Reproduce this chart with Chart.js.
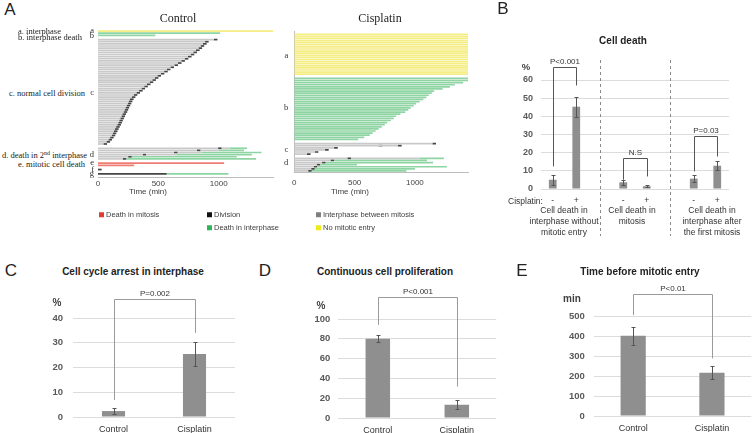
<!DOCTYPE html>
<html>
<head>
<meta charset="utf-8">
<script src="https://cdn.jsdelivr.net/npm/chart.js@4.4.1/dist/chart.umd.min.js"></script>
<style>
body { margin: 0; background: #fff; }
#page { position: relative; width: 752px; height: 433px; overflow: hidden; font-family: "Liberation Sans", Arial, sans-serif; color: #222; }
canvas { position: absolute; }
.t { position: absolute; white-space: nowrap; transform: translate(-50%, -50%); line-height: 1; }
.l { position: absolute; white-space: nowrap; transform: translateY(-50%); line-height: 1; }
.serif { font-family: "Liberation Serif", "Times New Roman", serif; }
.b { font-weight: bold; }
.sq { display: inline-block; width: 5px; height: 5px; margin-right: 2px; vertical-align: middle; position: relative; top: -1px; }
sup { font-size: 6px; vertical-align: top; position: relative; top: -1px; }
</style>
</head>
<body>
<div id="page">
  <canvas id="ctrl" width="189" height="179" style="left:90px;top:20px"></canvas>
  <canvas id="cis" width="196" height="174" style="left:276px;top:20px"></canvas>
  <canvas id="death" width="252" height="186" style="left:500px;top:50px"></canvas>
  <canvas id="arrest" width="220" height="148" style="left:20px;top:285px"></canvas>
  <canvas id="prolif" width="220" height="149" style="left:280px;top:285px"></canvas>
  <canvas id="entry" width="222" height="149" style="left:530px;top:283px"></canvas>

  <!-- panel A text -->
  <div class="t" style="left:10px;top:9px;font-size:17px">A</div>
  <div class="t serif" style="left:178px;top:18px;font-size:12px">Control</div>
  <div class="t serif" style="left:380px;top:18px;font-size:12px">Cisplatin</div>
  <div class="l serif" style="left:18px;top:31px;font-size:8.5px">a. interphase</div>
  <div class="l serif" style="left:18px;top:37px;font-size:8.5px">b. interphase death</div>
  <div class="l serif" style="left:9px;top:93px;font-size:8.5px">c. normal cell division</div>
  <div class="l serif" style="left:2px;top:155px;font-size:8.5px">d. death in 2<sup>nd</sup> interphase</div>
  <div class="l serif" style="left:18px;top:164px;font-size:8.5px">e. mitotic cell death</div>
  <div class="t" style="left:148px;top:192px;font-size:8px;color:#404040">Time (min)</div>
  <div class="t" style="left:350px;top:192px;font-size:8px;color:#404040">Time (min)</div>

  <div class="l" style="left:99px;top:215px;font-size:7.5px;color:#404040"><span class="sq" style="background:#e53935"></span>Death in mitosis</div>
  <div class="l" style="left:207px;top:215px;font-size:7.5px;color:#404040"><span class="sq" style="background:#111"></span>Division</div>
  <div class="l" style="left:207px;top:228px;font-size:7.5px;color:#404040"><span class="sq" style="background:#2fb35a"></span>Death in interphase</div>
  <div class="l" style="left:316px;top:215px;font-size:7.5px;color:#404040"><span class="sq" style="background:#7f7f7f"></span>Interphase between mitosis</div>
  <div class="l" style="left:316px;top:228px;font-size:7.5px;color:#404040"><span class="sq" style="background:#ecec1c"></span>No mitotic entry</div>

  <!-- panel B text -->
  <div class="t" style="left:503px;top:8px;font-size:17px">B</div>
  <div class="t b" style="left:623px;top:41px;font-size:10px">Cell death</div>
  <div class="t b" style="left:526px;top:67px;font-size:9.5px;color:#404040">%</div>
  <div class="l" style="left:508px;top:201px;font-size:8.5px;color:#333">Cisplatin:</div>
  <div class="t" style="left:564px;top:210px;font-size:8.5px;color:#333">Cell death in</div>
  <div class="t" style="left:564px;top:221px;font-size:8.5px;color:#333">interphase without</div>
  <div class="t" style="left:564px;top:232px;font-size:8.5px;color:#333">mitotic entry</div>
  <div class="t" style="left:632px;top:210px;font-size:8.5px;color:#333">Cell death in</div>
  <div class="t" style="left:632px;top:221px;font-size:8.5px;color:#333">mitosis</div>
  <div class="t" style="left:712px;top:210px;font-size:8.5px;color:#333">Cell death in</div>
  <div class="t" style="left:712px;top:221px;font-size:8.5px;color:#333">interphase after</div>
  <div class="t" style="left:712px;top:232px;font-size:8.5px;color:#333">the first mitosis</div>

  <!-- panels C, D, E text -->
  <div class="t" style="left:11px;top:270px;font-size:17px">C</div>
  <div class="t b" style="left:133px;top:272px;font-size:10px">Cell cycle arrest in interphase</div>
  <div class="t b" style="left:57px;top:303px;font-size:10px;color:#404040">%</div>

  <div class="t" style="left:265px;top:270px;font-size:17px">D</div>
  <div class="t b" style="left:385px;top:272px;font-size:10px">Continuous cell proliferation</div>
  <div class="t b" style="left:321px;top:306px;font-size:10px;color:#404040">%</div>

  <div class="t" style="left:522px;top:270px;font-size:17px">E</div>
  <div class="t b" style="left:640px;top:272px;font-size:10px">Time before mitotic entry</div>
  <div class="t b" style="left:572px;top:299px;font-size:10px;color:#404040">min</div>
</div>
<script>
// ---- panel A data (minutes) ----
const MITOSIS = 30;
const ctrlNoEntry = [1450];
const ctrlInterDeath = [1012, 475];
const ctrlDivision = [960, 887, 870, 850, 833, 812, 790, 768, 745, 718,
  690, 662, 633, 600, 570, 548, 520, 492, 470, 450,
  428, 405, 383, 360, 340, 318, 296, 280, 265, 255,
  246, 237, 228, 220, 212, 202, 194, 185, 176, 168,
  160, 150, 141, 132, 122, 113, 100, 86, 70, 45];
const ctrlD2First = [995, 820, 630, 370, 250, 205];
const ctrlD2Death = [1090, 1000, 860, 650, 280, 235];
const ctrlD2End = [1235, 1210, 1355, 1275, 1150, 1310];
const ctrlMitoticDeath = [1045, 300];
const ctrlEarlyDivision = 0;
const ctrlLateDivision = 570;
const ctrlLateDeathEnd = 1080;

const cisNoEntry = [1440, 1440, 1440, 1440, 1440, 1440, 1440, 1440, 1440, 1440,
  1440, 1440, 1440, 1440, 1440, 1440, 1440, 1440, 1440, 1440];
const cisInterDeath = [1440, 1440, 1400, 1330, 1290, 1230, 1160, 1140, 1115, 1095,
  1070, 1040, 1010, 990, 965, 945, 920, 880, 845, 825,
  800, 770, 750, 725, 700, 675, 650, 625, 580, 530];
const cisDivisions = [[1145], [700, 860], [330], [255], [170], [105]];
const cisD2First = [440, 300, 230, 185, 160, 140, 115];
const cisD2Death = [1040, 330, 260, 215, 190, 170, 145];
const cisD2End = [1240, 1100, 1150, 520, 1265, 1000, 930];
const timeTicks = [0, 500, 1000];

// ---- panel B ----
const deathTicks = ['-', '+', '', '-', '+', '', '-', '+'];
const deathValues = [5.1, 45.3, null, 3.7, 1.5, null, 5.7, 12.8];
const deathErrors = [2.7, 5.5, null, 1.4, 0.5, null, 2.1, 2.4];
const deathBrackets = [
  { text: 'P<0.001', from: 0, to: 1, top: 67.4, left: 12.4, right: 57 },
  { text: 'N.S', from: 3, to: 4, top: 17, left: 5.1, right: 6.9 },
  { text: 'P=0.03', from: 6, to: 7, top: 28.9, left: 9.7, right: 17.9 }
];

// ---- panels C, D, E ----
const groups = ['Control', 'Cisplatin'];
const arrestValues = [2.4, 25.5];
const arrestErrors = [1.1, 4.8];
const arrestBracket = [{ text: 'P=0.002', from: 0, to: 1, top: 47.7, left: 6.9, right: 34 }];
const prolifValues = [80.1, 13.4];
const prolifErrors = [3.4, 4.7];
const prolifBracket = [{ text: 'P<0.001', from: 0, to: 1, top: 122.5, left: 94, right: 31.8 }];
const entryValues = [404, 218];
const entryErrors = [44, 33];
const entryBracket = [{ text: 'P<0.01', from: 0, to: 1, top: 614, left: 508, right: 290 }];

const SANS = '"Liberation Sans", Arial, sans-serif';
const SERIF = '"Liberation Serif", "Times New Roman", serif';
Chart.defaults.font.family = SANS;
const COL = { gray: '#c9c9c9', black: '#454545', green: '#8fd4a3', red: '#ee7d74', yellow: '#f5ee84' };

// turn rows of [colour, start, end] segments into overlapping floating-bar datasets
function rowsToDatasets(rows) {
  const sets = {};
  rows.forEach((segs, i) => {
    const count = {};
    (segs || []).forEach(([c, s, e]) => {
      count[c] = (count[c] || 0) + 1;
      const k = c + count[c];
      if (!sets[k]) sets[k] = { c, data: new Array(rows.length).fill(null) };
      sets[k].data[i] = [s, e];
    });
  });
  const order = ['yellow', 'gray', 'green', 'red', 'black'];
  return Object.values(sets)
    .sort((a, b) => order.indexOf(a.c) - order.indexOf(b.c))
    .map(d => ({ data: d.data, backgroundColor: COL[d.c], grouped: false, barPercentage: 0.8, categoryPercentage: 1 }));
}

const cRows = [], cLabels = [];
const addC = (lab, segs) => { cLabels.push(lab); cRows.push(segs); };
ctrlNoEntry.forEach(t => addC('a', [['yellow', 0, t]]));
ctrlInterDeath.forEach((t, i) => addC(i === 1 ? 'b' : '', [['green', 0, t]]));
addC('', null);
ctrlDivision.forEach((t, i) => addC(i === 25 ? 'c' : '', [['gray', 0, t], ['black', t, t + MITOSIS]]));
addC('', null);
ctrlD2First.forEach((t, i) => addC(i === 3 ? 'd' : '', [['gray', 0, t], ['black', t, t + MITOSIS],
  ['gray', t + MITOSIS, ctrlD2Death[i]], ['green', ctrlD2Death[i], ctrlD2End[i]]]));
addC('', null);
ctrlMitoticDeath.forEach((t, i) => addC(i === 0 ? 'e' : '', [['red', 0, t]]));
addC('', null);
addC('f', [['black', ctrlEarlyDivision, ctrlEarlyDivision + MITOSIS]]);
addC('', null);
addC('g', [['black', 0, ctrlLateDivision], ['green', ctrlLateDivision, ctrlLateDeathEnd]]);
addC('', null);

const sRows = [], sLabels = [];
const addS = (lab, segs) => { sLabels.push(lab); sRows.push(segs); };
addS('', null);
cisNoEntry.forEach((t, i) => addS(i === 10 ? 'a' : '', [['yellow', 0, t]]));
addS('', null);
cisInterDeath.forEach((t, i) => addS(i === 14 ? 'b' : '', [['green', 0, t]]));
addS('', null);
cisDivisions.forEach((ds, i) => addS(i === 3 ? 'c' : '', [['gray', 0, ds[ds.length - 1]],
  ...ds.map(d => ['black', d, d + MITOSIS])]));
addS('', null);
cisD2First.forEach((t, i) => addS(i === 2 ? 'd' : '', [['gray', 0, t], ['black', t, t + MITOSIS],
  ['gray', t + MITOSIS, cisD2Death[i]], ['green', cisD2Death[i], cisD2End[i]]]));

function lineageChart(id, labels, rows, max, opt) {
  return new Chart(document.getElementById(id), {
    type: 'bar',
    data: { labels, datasets: rowsToDatasets(rows) },
    options: {
      indexAxis: 'y', responsive: false, animation: false,
      layout: { padding: { top: 10, right: opt.right, left: 0, bottom: 0 } },
      plugins: { legend: { display: false }, tooltip: { enabled: false } },
      scales: {
        x: {
          min: 0, max,
          grid: { display: false, drawTicks: false },
          border: { color: '#bdbdbd' },
          afterBuildTicks: s => { s.ticks = timeTicks.map(v => ({ value: v })); },
          ticks: { autoSkip: false, padding: opt.tickPad, color: '#444', font: { size: 8 }, callback: v => String(v) },
          afterFit: s => { s.height = 22; }
        },
        y: {
          grid: { display: false, drawTicks: false },
          border: { display: opt.yBorder, color: '#bdbdbd' },
          ticks: { autoSkip: false, padding: opt.labelPad, color: '#333', font: { size: 8.5, family: SERIF } },
          afterFit: s => { s.width = opt.yWidth; }
        }
      }
    }
  });
}

lineageChart('ctrl', cLabels, cRows, 1450, { right: 6, tickPad: 2, labelPad: 4, yBorder: false, yWidth: 8 });
lineageChart('cis', sLabels, sRows, 1440, { right: 4, tickPad: 6, labelPad: 6, yBorder: true, yWidth: 18.3 });

const errorBars = {
  id: 'errorBars',
  afterDatasetsDraw(chart, args, opts) {
    const { ctx } = chart;
    const y = chart.scales.y;
    const vals = chart.data.datasets[0].data;
    ctx.save();
    ctx.strokeStyle = '#555';
    ctx.lineWidth = 1;
    chart.getDatasetMeta(0).data.forEach((bar, i) => {
      const e = opts.errors[i];
      if (e == null || vals[i] == null) return;
      const x = Math.round(bar.x) + 0.5;
      const top = Math.round(y.getPixelForValue(vals[i] + e)) + 0.5;
      const bot = Math.round(y.getPixelForValue(vals[i] - e)) + 0.5;
      ctx.beginPath();
      ctx.moveTo(x, top); ctx.lineTo(x, bot);
      ctx.moveTo(x - 2, top); ctx.lineTo(x + 2, top);
      ctx.moveTo(x - 2, bot); ctx.lineTo(x + 2, bot);
      ctx.stroke();
    });
    ctx.restore();
  }
};

const brackets = {
  id: 'brackets',
  afterDatasetsDraw(chart, args, opts) {
    const { ctx } = chart;
    const { x, y } = chart.scales;
    ctx.save();
    ctx.strokeStyle = opts.color;
    ctx.lineWidth = 1;
    ctx.fillStyle = '#333';
    ctx.font = '8px ' + SANS;
    ctx.textAlign = 'center';
    ctx.textBaseline = 'bottom';
    opts.items.forEach(b => {
      const x1 = Math.round(x.getPixelForValue(b.from)) + 0.5;
      const x2 = Math.round(x.getPixelForValue(b.to)) + 0.5;
      const yt = Math.round(y.getPixelForValue(b.top)) + 0.5;
      ctx.beginPath();
      ctx.moveTo(x1, y.getPixelForValue(b.left));
      ctx.lineTo(x1, yt);
      ctx.lineTo(x2, yt);
      ctx.lineTo(x2, y.getPixelForValue(b.right));
      ctx.stroke();
      ctx.fillText(b.text, (x1 + x2) / 2, yt - 2);
    });
    ctx.restore();
  }
};

const separators = {
  id: 'separators',
  beforeDatasetsDraw(chart, args, opts) {
    const { ctx, chartArea } = chart;
    const x = chart.scales.x;
    ctx.save();
    ctx.strokeStyle = '#8a8a8a';
    ctx.lineWidth = 1;
    ctx.setLineDash([3, 3]);
    opts.at.forEach(i => {
      const px = Math.round(x.getPixelForValue(i)) + 0.5;
      ctx.beginPath();
      ctx.moveTo(px, chartArea.top - 20);
      ctx.lineTo(px, chart.height);
      ctx.stroke();
    });
    ctx.restore();
  }
};

function barChart(id, labels, values, errors, bracketItems, cfg) {
  const plugins = [errorBars, brackets];
  if (cfg.separators) plugins.push(separators);
  return new Chart(document.getElementById(id), {
    type: 'bar',
    data: { labels, datasets: [{ data: values, backgroundColor: '#8f8f8f', barPercentage: cfg.barPct, categoryPercentage: 1 }] },
    plugins,
    options: {
      responsive: false, animation: false,
      layout: { padding: { top: cfg.top, right: cfg.right, left: 0, bottom: 0 } },
      plugins: {
        legend: { display: false }, tooltip: { enabled: false },
        errorBars: { errors },
        brackets: { items: bracketItems, color: cfg.bracketColor },
        separators: { at: cfg.separators || [] }
      },
      scales: {
        x: {
          grid: { display: false, drawTicks: false },
          border: { display: false },
          ticks: { padding: cfg.xPad, color: '#333', font: { size: cfg.xFont } },
          afterFit: s => { s.height = cfg.xHeight; }
        },
        y: {
          min: 0, max: cfg.max,
          grid: { color: '#dcdcdc', drawTicks: false },
          border: { display: false },
          ticks: { stepSize: cfg.step, padding: cfg.yPad, color: '#595959', font: { size: cfg.yFont, weight: 'bold' } },
          afterFit: s => { s.width = cfg.yWidth; }
        }
      }
    }
  });
}

barChart('death', deathTicks, deathValues, deathErrors, deathBrackets,
  { max: 60, step: 10, top: 30, right: 23, yWidth: 41, yPad: 8, xHeight: 47, xPad: 7, xFont: 8.5, yFont: 9,
    barPct: 0.33, bracketColor: '#555', separators: [2, 5] });
barChart('arrest', groups, arrestValues, arrestErrors, arrestBracket,
  { max: 40, step: 10, top: 33, right: 5, yWidth: 53, yPad: 10, xHeight: 16, xPad: 7, xFont: 9, yFont: 9.5,
    barPct: 0.285, bracketColor: '#9a9a9a' });
barChart('prolif', groups, prolifValues, prolifErrors, prolifBracket,
  { max: 100, step: 20, top: 34, right: 3.7, yWidth: 58.3, yPad: 8, xHeight: 16, xPad: 7, xFont: 9, yFont: 9.5,
    barPct: 0.31, bracketColor: '#9a9a9a' });
barChart('entry', groups, entryValues, entryErrors, entryBracket,
  { max: 500, step: 100, top: 33.7, right: 0.7, yWidth: 63.8, yPad: 9, xHeight: 16, xPad: 7, xFont: 9, yFont: 9.5,
    barPct: 0.32, bracketColor: '#9a9a9a' });
</script>
</body>
</html>
